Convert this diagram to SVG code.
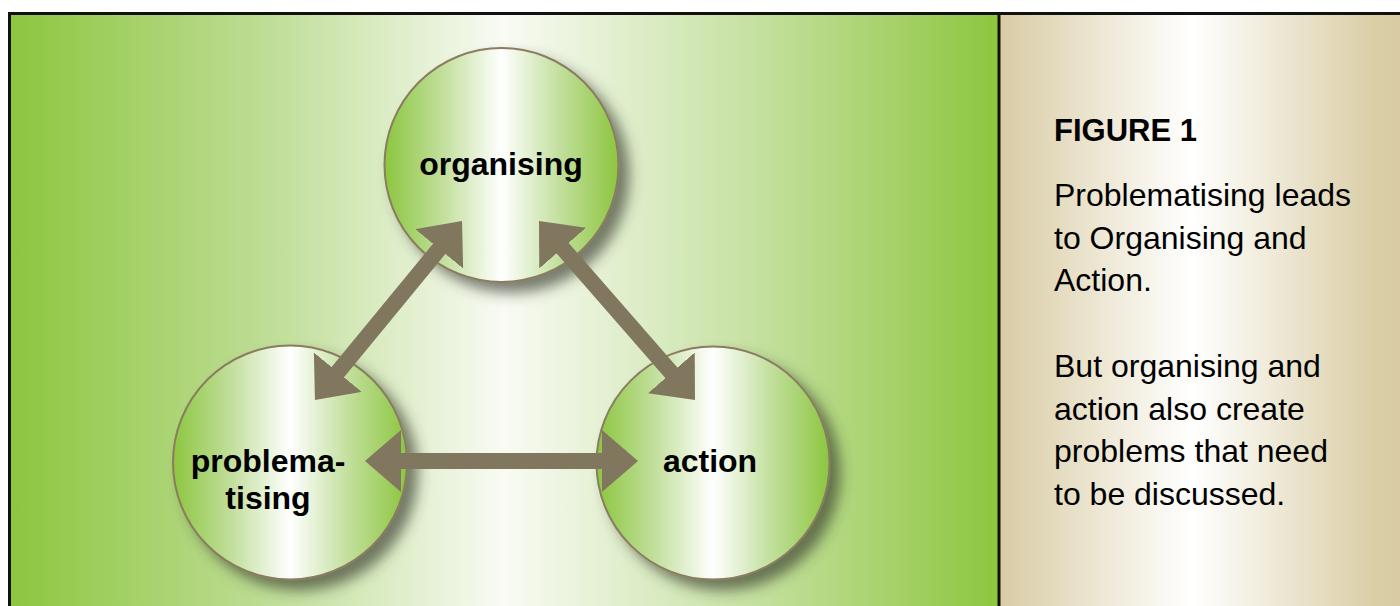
<svg xmlns="http://www.w3.org/2000/svg" width="1400" height="606" viewBox="0 0 1400 606">
  <defs>
    <linearGradient id="panelGreen" x1="10" y1="0" x2="998" y2="0" gradientUnits="userSpaceOnUse">
      <stop offset="0" stop-color="#8dc63f"/>
      <stop offset="0.25" stop-color="#bcdc92"/>
      <stop offset="0.5" stop-color="#f9fbf4"/>
      <stop offset="0.75" stop-color="#c6e1a2"/>
      <stop offset="1" stop-color="#8dc63f"/>
    </linearGradient>
    <linearGradient id="panelTan" x1="1000" y1="0" x2="1400" y2="0" gradientUnits="userSpaceOnUse">
      <stop offset="0" stop-color="#d9cca4"/>
      <stop offset="0.48" stop-color="#ffffff"/>
      <stop offset="0.93" stop-color="#dbcfa8"/>
      <stop offset="1" stop-color="#d9cca4"/>
    </linearGradient>
    <linearGradient id="ballFill" x1="0" y1="0" x2="1" y2="0">
      <stop offset="0" stop-color="#8cc63f"/>
      <stop offset="0.25" stop-color="#c2df9c"/>
      <stop offset="0.5" stop-color="#ffffff"/>
      <stop offset="0.75" stop-color="#c2df9c"/>
      <stop offset="1" stop-color="#8cc63f"/>
    </linearGradient>
    <filter id="ballShadow" x="-30%" y="-30%" width="170%" height="170%">
      <feDropShadow dx="10" dy="10" stdDeviation="7" flood-color="#34382a" flood-opacity="0.65"/>
    </filter>
    <marker id="head" markerUnits="userSpaceOnUse" markerWidth="36" markerHeight="62" viewBox="0 0 36 62" refX="1" refY="31" orient="auto-start-reverse">
      <path d="M0,0 L36,31 L0,62 Z" fill="#80775e"/>
    </marker>
    <style>
      .ball { fill: url(#ballFill); stroke: #8a7c60; stroke-width: 2; filter: url(#ballShadow); }
      .label { font-family: "Liberation Sans", Arial, sans-serif; font-weight: bold; font-size: 32px; fill: #000; text-anchor: middle; }
      .link { stroke: #80775e; stroke-width: 16; fill: none; marker-start: url(#head); marker-end: url(#head); }
      .caption { font-family: "Liberation Sans", Arial, sans-serif; font-size: 32px; fill: #000; }
      .title { font-family: "Liberation Sans", Arial, sans-serif; font-size: 31px; font-weight: bold; fill: #000; }
    </style>
  </defs>

  <!-- panels -->
  <rect x="10" y="14" width="989" height="600" fill="url(#panelGreen)"/>
  <rect x="999" y="14" width="401" height="600" fill="url(#panelTan)"/>
  <path d="M9.5,620 V13.5 H1400" fill="none" stroke="#111" stroke-width="3"/>
  <line x1="999" y1="13" x2="999" y2="606" stroke="#111" stroke-width="3"/>

  <!-- nodes -->
  <g id="organising">
    <circle class="ball" cx="501.5" cy="165" r="117"/>
    <text class="label" x="501" y="175">organising</text>
  </g>
  <g id="problematising">
    <circle class="ball" cx="290" cy="462.5" r="117"/>
    <text class="label" x="268" y="472">problema-</text>
    <text class="label" x="268" y="509">tising</text>
  </g>
  <g id="action">
    <circle class="ball" cx="713" cy="463" r="116.5"/>
    <text class="label" x="710" y="472">action</text>
  </g>

  <!-- connectors -->
  <g id="connectors">
    <line class="link" x1="337.2" y1="372.9" x2="439.8" y2="248.1"/>
    <line class="link" x1="562" y1="247.4" x2="672" y2="373.6"/>
    <line class="link" x1="400" y1="461" x2="603" y2="461"/>
  </g>

  <!-- caption -->
  <g id="caption">
    <text class="title" x="1054" y="141">FIGURE 1</text>
    <text class="caption" x="1054" y="206">Problematising leads</text>
    <text class="caption" x="1054" y="249">to Organising and</text>
    <text class="caption" x="1054" y="291">Action.</text>
    <text class="caption" x="1054" y="377">But organising and</text>
    <text class="caption" x="1054" y="420">action also create</text>
    <text class="caption" x="1054" y="462">problems that need</text>
    <text class="caption" x="1054" y="505">to be discussed.</text>
  </g>
</svg>
